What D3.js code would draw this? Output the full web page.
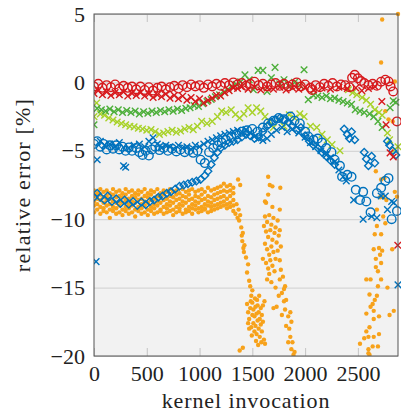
<!DOCTYPE html>
<html>
<head>
<meta charset="utf-8">
<script src="https://cdn.jsdelivr.net/npm/d3@7"></script>
<style>
  body { margin: 0; background: #fff; }
  svg text { font-family: "Liberation Serif", "Times New Roman", "DejaVu Serif", serif; fill: #222; }
</style>
</head>
<body>
<svg id="chart" width="403" height="419"></svg>
<script>
// Tick values
const xTicks = [0, 500, 1000, 1500, 2000, 2500];
const yTicks = [5, 0, -5, -10, -15, -20];

// Red circles [x, y]
const redCircles = [
  [0,-0.3],[40,-0.1],[80,-0.4],[120,-0.2],[160,-0.35],[200,-0.15],[240,-0.45],[280,-0.25],
  [320,-0.4],[360,-0.3],[400,-0.5],[440,-0.3],[480,-0.55],[520,-0.35],[560,-0.6],[600,-0.4],
  [640,-0.3],[680,-0.5],[720,-0.35],[760,-0.25],[800,-0.45],[840,-0.2],[880,-0.35],[920,-0.15],
  [960,-0.3],[1000,-0.2],[1040,-0.4],[1080,-0.15],[1120,-0.3],[1160,-0.1],[1200,-0.25],[1240,-0.05],
  [1280,-0.2],[1320,0.0],[1360,-0.15],[1400,-0.05],[1440,-0.25],[1480,-0.1],[1520,0.05],[1560,-0.2],
  [1600,-0.1],[1640,-0.3],[1680,-0.15],[1720,-0.05],[1760,-0.25],[1800,-0.1],[1840,-0.3],[1880,-0.15],
  [1920,0.0],[1960,-0.3],[2000,-0.15],[2050,-0.4],[2065,-0.55],[2100,-0.2],[2140,-0.35],[2180,-0.1],
  [2220,-0.25],[2260,-0.05],[2300,-0.3],[2340,-0.15],[2380,-0.2],[2420,-0.35],[2445,0.34],[2470,0.56],
  [2500,0.3],[2530,0.1],[2560,-0.05],[2600,-0.2],[2640,-0.1],[2680,-0.25],[2720,0.05],[2760,0.2],
  [2790,0.07],[2810,-0.3],[2835,-0.66],[2870,-2.85]
];

// Red crosses [x, y]
const redCrosses = [
  [0,-0.8],[40,-0.6],[80,-0.9],[120,-0.7],[160,-0.95],[200,-0.75],[240,-0.9],[280,-0.7],
  [320,-1.0],[360,-0.8],[400,-0.95],[440,-0.75],[480,-1.0],[520,-0.85],[560,-1.1],[600,-0.9],
  [640,-1.05],[680,-0.85],[720,-1.15],[760,-0.95],[800,-1.2],[840,-1.0],[880,-1.3],[920,-1.1],
  [960,-1.4],[1000,-1.2],[1040,-1.5],[1080,-1.3],[1120,-1.15],[1160,-0.95],[1200,-1.0],[1240,-0.75],
  [1280,-0.6],[1320,-0.4],[1360,-0.45],[1400,-0.3],[1460,-0.5],[1520,-0.35],[1580,-0.55],[1640,-0.4],
  [1700,-0.5],[1760,-0.35],[1820,-0.55],[1880,-0.4],[1940,-0.5],[2000,-0.35],[2080,-0.55],[2160,-0.4],
  [2240,-0.5],[2320,-0.35],[2400,-0.45],[2480,-0.4],[2537,-0.6],[2600,-0.45],[2660,-0.3],[2727,-1.4],
  [2767,-3.1],[2805,-5.15],[2835,-5.45],[2878,-11.9]
];

// Dark green crosses [x, y]
const greenCrosses = [
  [0,-3.1],[30,-1.9],[70,-2.0],[110,-2.1],[150,-1.95],[190,-2.15],[230,-2.0],[270,-2.2],
  [310,-2.05],[350,-2.2],[390,-2.1],[430,-2.3],[470,-2.15],[510,-2.25],[550,-2.1],[590,-2.2],
  [630,-2.05],[670,-2.15],[710,-2.0],[750,-2.1],[790,-1.95],[830,-2.05],[870,-1.9],[910,-1.85],
  [950,-1.7],[990,-1.75],[1030,-1.55],[1070,-1.4],[1110,-1.25],[1150,-1.05],[1190,-0.9],[1230,-0.7],
  [1270,-0.5],[1310,-0.3],[1350,-0.15],[1390,0.05],[1430,0.55],[1470,0.2],[1510,-0.54],[1555,0.88],
  [1600,0.88],[1640,-0.66],[1680,0.34],[1715,1.1],[1760,-0.1],[1800,0.2],[1850,-0.3],[1900,0.0],
  [1950,-0.2],[1990,0.93],[2030,-1.26],[2080,-0.95],[2120,-1.0],[2160,-1.1],[2200,-1.0],[2240,-1.2],
  [2280,-1.15],[2320,-1.3],[2360,-1.4],[2400,-1.5],[2440,-1.6],[2475,-2.0],[2520,-2.1],[2560,-2.2],
  [2610,-2.3],[2650,-2.5],[2690,-2.85],[2730,-3.3],[2805,-1.85],[2835,-1.35],[2860,-1.45]
];

// Light green crosses [x, y]
const limeCrosses = [
  [0,-2.5],[25,-1.5],[60,-2.3],[100,-2.4],[140,-2.6],[180,-2.75],[220,-2.9],[260,-3.0],
  [300,-3.1],[340,-3.2],[380,-3.25],[420,-3.35],[460,-3.4],[500,-3.5],[540,-3.45],[580,-3.6],
  [620,-3.8],[660,-3.7],[700,-3.6],[740,-3.5],[780,-3.65],[820,-3.55],[860,-3.4],[900,-3.3],
  [940,-3.45],[980,-3.2],[1020,-2.85],[1070,-3.0],[1120,-2.85],[1170,-2.5],[1210,-2.1],[1250,-2.2],
  [1300,-2.0],[1340,-2.35],[1380,-2.6],[1420,-2.3],[1460,-1.85],[1500,-2.2],[1540,-1.85],[1580,-2.1],
  [1620,-2.5],[1660,-2.85],[1700,-3.3],[1750,-2.7],[1800,-3.2],[1850,-2.36],[1900,-2.6],[1950,-2.3],
  [1990,-2.5],[2050,-3.2],[2110,-3.3],[2160,-3.8],[2210,-4.2],[2255,-4.55],[2330,-5.0],[2410,-0.54],
  [2450,-0.75],[2490,-0.9],[2540,-1.1],[2580,-1.3],[2620,-1.6],[2660,-2.0],[2700,-2.2],[2730,-2.4],
  [2780,-3.7],[2800,-4.2],[2850,-4.9],[2880,-4.7]
];

// Blue circles [x, y]
const blueCircles = [
  [0,-4.5],[30,-4.3],[60,-4.7],[90,-4.5],[120,-4.9],[150,-4.6],[180,-4.85],[210,-4.6],
  [240,-4.9],[270,-4.7],[300,-5.0],[330,-4.75],[360,-5.0],[400,-4.8],[430,-5.1],[460,-5.3],
  [490,-5.0],[520,-5.35],[550,-4.9],[580,-4.7],[620,-4.95],[660,-4.8],[700,-5.0],[740,-4.85],
  [780,-5.05],[820,-4.9],[860,-5.1],[900,-4.95],[940,-5.15],[980,-5.0],[1010,-5.65],[1050,-5.9],
  [1090,-5.1],[1130,-4.8],[1170,-4.6],[1210,-4.4],[1250,-4.2],[1300,-4.0],[1350,-3.8],[1400,-3.6],
  [1450,-3.5],[1500,-3.4],[1550,-3.6],[1600,-3.3],[1650,-3.0],[1700,-2.8],[1750,-2.6],[1800,-2.7],
  [1860,-2.5],[1900,-2.8],[1950,-3.0],[2000,-3.6],[2030,-3.95],[2080,-4.2],[2120,-4.1],[2160,-4.4],
  [2200,-4.8],[2250,-5.1],[2280,-5.65],[2330,-6.1],[2350,-6.9],[2400,-6.75],[2440,-6.9],[2480,-7.85],
  [2520,-8.6],[2550,-8.0],[2580,-8.7],[2620,-9.5],[2680,-8.1],[2720,-7.7],[2760,-7.2],[2790,-7.0],
  [2820,-10.0],[2870,-9.4]
];

// Blue diamonds [x, y]
const blueDiamonds = [
  [0,-8.4],[30,-8.1],[60,-8.4],[100,-8.6],[130,-8.3],[170,-8.7],[210,-8.5],[250,-8.85],
  [290,-8.6],[330,-8.9],[370,-8.7],[410,-9.0],[450,-8.75],[490,-8.95],[530,-8.7],[570,-8.6],
  [610,-8.4],[650,-8.3],[690,-8.1],[730,-8.0],[770,-7.8],[810,-7.6],[850,-7.5],[890,-7.4],
  [930,-7.3],[970,-7.2],[1010,-7.1],[1050,-6.8],[1080,-6.5],[1110,-6.0],[1140,-5.5],[1170,-5.1],
  [1200,-4.8],[1240,-4.6],[1280,-4.4],[1320,-4.3],[1360,-4.2],[1400,-4.0],[1440,-3.8],[1480,-3.9],
  [1520,-4.1],[1560,-4.0],[1600,-3.6],[1640,-3.2],[1680,-2.9],[1720,-2.7],[1760,-2.6],[1800,-2.75],
  [1840,-2.9],[1880,-3.2],[1920,-3.5],[1960,-3.3],[2000,-3.9],[2040,-4.3],[2080,-4.6],[2120,-4.8],
  [2160,-5.1],[2200,-5.4],[2240,-5.7],[2280,-6.0],[2370,-3.4],[2400,-3.8],[2420,-4.1],[2440,-3.6],
  [2470,-4.2],[2560,-5.1],[2580,-5.6],[2600,-6.1],[2630,-5.4],[2660,-5.9],[2780,-4.3],[2800,-4.6],
  [2830,-5.0],[2860,-5.3]
];

// Blue crosses [x, y]
const blueCrosses = [
  [20,-13.1],[30,-5.65],[60,-4.3],[100,-4.6],[150,-4.5],[200,-4.7],[240,-4.4],[280,-6.1],
  [300,-6.2],[330,-4.8],[380,-4.6],[430,-4.5],[480,-4.7],[520,-4.3],[560,-4.05],[600,-4.5],
  [640,-4.8],[680,-4.6],[720,-4.7],[760,-4.9],[800,-4.6],[840,-4.8],[880,-4.7],[920,-4.9],
  [960,-4.6],[1000,-4.7],[1040,-4.5],[1080,-4.3],[1120,-4.2],[1160,-4.05],[1200,-3.9],[1240,-3.8],
  [1280,-3.7],[1320,-3.6],[1360,-3.5],[1400,-3.6],[1440,-3.45],[1480,-3.7],[1520,-3.95],[1560,-4.1],
  [1600,-4.25],[1640,-4.1],[1680,-3.8],[1730,-3.5],[1780,-3.3],[1830,-3.6],[1880,-3.4],[1940,-3.7],
  [2000,-4.0],[2050,-4.4],[2100,-4.7],[2150,-5.0],[2200,-5.3],[2240,-5.5],[2280,-5.8],[2320,-6.4],
  [2360,-6.9],[2390,-7.2],[2460,-8.6],[2550,-10.0],[2630,-9.8],[2680,-9.9],[2720,-8.3],[2760,-8.3],
  [2780,-9.3],[2820,-8.7],[2840,-8.8],[2880,-14.8]
];

// Orange dots, main band: [x, y1, y2, ...]
const orangeBand = [
  [0,-7.9,-8.3,-8.7,-9.0,-9.5],[30,-8.1,-8.5,-8.9,-9.3,-8.2],[60,-7.8,-8.2,-8.6,-9.1,-9.6],
  [90,-8.0,-8.4,-8.8,-9.2,-9.4],[120,-7.9,-8.3,-8.6,-9.0,-9.5],[150,-8.1,-8.5,-8.9,-9.3,-9.9],
  [180,-7.8,-8.2,-8.7,-9.1,-9.4],[210,-8.0,-8.4,-8.8,-9.2,-9.6],[240,-7.9,-8.3,-8.7,-9.0,-9.5],
  [270,-8.1,-8.4,-8.8,-9.3,-9.7],[300,-7.8,-8.2,-8.6,-9.1,-9.4],[330,-8.0,-8.5,-8.9,-9.2,-9.6],
  [360,-7.9,-8.3,-8.7,-9.0,-9.5],[390,-8.1,-8.4,-8.8,-9.3,-9.8],[420,-7.9,-8.2,-8.6,-9.1,-9.4],
  [450,-8.0,-8.5,-8.9,-9.2,-9.6],[480,-7.8,-8.3,-8.7,-9.0,-9.5],[510,-8.1,-8.4,-8.8,-9.3,-9.7],
  [540,-7.9,-8.2,-8.6,-9.1,-9.4],[570,-8.0,-8.5,-8.9,-9.2,-9.6],[600,-7.8,-8.3,-8.7,-9.0,-9.5],
  [630,-8.1,-8.4,-8.8,-9.3,-9.4],[660,-7.9,-8.2,-8.6,-9.1,-9.6],[690,-8.0,-8.5,-8.9,-9.2,-9.5],
  [720,-7.8,-8.3,-8.7,-9.0,-9.4],[750,-8.0,-8.4,-8.8,-9.3,-9.7],[780,-7.9,-8.2,-8.6,-9.1,-9.5],
  [810,-8.1,-8.5,-8.9,-9.2,-9.4],[840,-7.8,-8.3,-8.7,-9.0,-9.6],[870,-8.0,-8.4,-8.8,-9.3,-9.5],
  [900,-7.9,-8.2,-8.6,-9.1,-9.4],[930,-7.8,-8.5,-8.9,-9.2,-9.6],[960,-8.0,-8.3,-8.7,-9.0,-9.3],
  [990,-7.9,-8.4,-8.8,-9.2,-9.5],[1020,-7.8,-8.2,-8.6,-9.1,-9.4],[1050,-8.0,-8.5,-8.9,-9.2,-9.3],
  [1080,-7.7,-8.3,-8.7,-9.0,-9.5],[1110,-7.9,-8.4,-8.8,-9.1,-9.4],[1140,-7.8,-8.2,-8.6,-9.0,-9.3],
  [1170,-7.7,-8.1,-8.5,-8.9,-9.2],[1200,-7.6,-8.0,-8.4,-8.8,-9.1],[1230,-7.4,-7.9,-8.3,-8.7,-9.0],
  [1260,-7.6,-8.0,-8.5,-8.9,-9.2],[1290,-7.5,-7.9,-8.3,-8.8,-9.1],[1320,-7.7,-8.1,-8.6,-9.0,-9.4]
];

// Orange dots outside the band [x, y]
const orangeScatter = [
  [1340,-9.6],[1350,-8.9],[1360,-9.9],[1370,-9.3],[1375,-10.1],[1385,-9.7],[1365,-7.1],[1385,-7.5],
  [1395,-10.6],[1400,-11.2],[1405,-11.6],[1410,-11.0],[1415,-12.1],[1420,-12.4],[1425,-11.9],[1440,-12.8],
  [1450,-13.9],[1460,-13.3],[1470,-14.5],[1480,-14.9],[1490,-15.6],[1500,-15.2],[1380,-19.6],[1410,-19.4],
  [1450,-16.2],[1460,-16.8],[1470,-17.3],[1480,-16.5],[1490,-17.9],[1500,-16.1],[1500,-17.0],[1510,-17.6],
  [1510,-16.6],[1520,-18.2],[1520,-17.1],[1530,-16.4],[1530,-17.8],[1540,-16.9],[1540,-18.4],[1550,-17.4],
  [1550,-16.3],[1560,-18.0],[1560,-16.8],[1570,-17.3],[1570,-18.6],[1580,-16.5],[1580,-17.7],[1590,-17.0],
  [1590,-18.2],[1600,-16.3],[1600,-17.5],[1470,-18.0],[1460,-17.6],[1485,-16.0],[1495,-18.5],[1525,-15.8],
  [1545,-15.9],[1565,-15.6],[1585,-19.0],[1610,-18.8],[1615,-16.0],[1620,-19.1],[1535,-18.9],[1555,-19.2],
  [1650,-6.9],[1665,-7.5],[1690,-7.6],[1650,-8.2],[1630,-8.8],[1690,-9.1],[1760,-9.3],[1765,-7.7],
  [1620,-8.7],[1620,-9.8],[1640,-10.2],[1660,-9.7],[1680,-10.4],[1700,-9.9],[1720,-10.6],[1740,-10.1],
  [1630,-10.9],[1650,-11.3],[1670,-10.8],[1690,-11.5],[1710,-11.0],[1730,-11.7],[1750,-11.2],[1620,-11.8],
  [1640,-12.2],[1660,-12.6],[1680,-12.0],[1700,-12.4],[1720,-12.9],[1740,-12.3],[1630,-13.2],[1650,-13.6],
  [1670,-13.0],[1690,-13.4],[1710,-13.8],[1760,-13.0],[1600,-12.9],[1610,-10.5],[1760,-10.8],[1770,-12.0],
  [1660,-14.0],[1680,-14.6],[1640,-14.4],[1790,-14.2],[1810,-14.9],[1750,-15.6],[1820,-15.9],[1810,-16.6],
  [1840,-17.1],[1860,-16.8],[1820,-17.8],[1860,-18.6],[1840,-19.0],[1870,-19.5],[1890,-19.9],[1700,-16.5],
  [1730,-16.4],[1760,-14.4],[1720,-15.0],[1780,-15.4],[1800,-16.0],[1850,-18.0],[1880,-19.0],[1900,-19.7],
  [1870,-17.5],[1780,-17.0],[1770,-13.7],[1800,-15.1],
  [2660,-11.1],[2720,-11.1],[2700,-12.1],[2710,-12.6],[2720,-13.2],[2690,-13.8],[2620,-14.4],[2720,-14.4],
  [2690,-14.9],[2610,-15.5],[2660,-15.9],[2650,-16.7],[2700,-17.1],[2650,-17.3],[2610,-17.9],[2650,-18.6],
  [2560,-18.7],[2520,-19.1],[2610,-19.9],[2690,-19.3],[2800,-17.0],[2840,-16.7],[2825,-12.2],[2780,-15.0],
  [2670,-6.5],[2720,-7.1],[2750,-7.0],[2740,-8.4],[2710,-8.4],[2770,-8.6],[2870,-8.35],[2850,-8.0],
  [2760,-10.3],[2680,-10.5],[2730,4.6],[2880,5.0],[2720,1.46],[2850,0.07],[2760,-2.1],[2790,-2.7],
  [2830,-2.85],[2730,-12.3],[2640,-16.2],[2700,-18.4],[2580,-18.2],[2600,-19.5],[2670,-13.5],[2580,-16.9],
  [2740,-9.8],[2680,-9.3],[2650,-12.2],[2670,-12.9],[2580,-14.4],[2680,-15.6],[2620,-16.4],[2600,-18.6],
  [2640,-19.3],[2600,-19.8]
];

const colors = {
  red: "#d7191c",
  green: "#4daf3a",
  lime: "#a8d22a",
  blue: "#0072bd",
  orange: "#f7a21b"
};

const fontFamily = "'Liberation Serif', 'Times New Roman', 'DejaVu Serif', serif";

const svg = d3.select("#chart");
const margin = { left: 94, right: 5, top: 14, bottom: 63 };
const width = 403 - margin.left - margin.right;
const height = 419 - margin.top - margin.bottom;

const x = d3.scaleLinear().domain([0, 2880]).range([margin.left, margin.left + width]);
const y = d3.scaleLinear().domain([-20, 5]).range([margin.top + height, margin.top]);

// Plot background
svg.append("rect")
  .attr("x", margin.left).attr("y", margin.top)
  .attr("width", width).attr("height", height)
  .attr("fill", "#f2f2f2");

// Horizontal grid lines
svg.append("g")
  .attr("transform", `translate(${margin.left},0)`)
  .call(d3.axisLeft(y).tickValues(yTicks).tickSize(-width).tickFormat(""))
  .call(g => g.select(".domain").remove())
  .call(g => g.selectAll("line").attr("stroke", "#cfcfcf").attr("stroke-width", 1));

// Inward x ticks, bottom and top
svg.append("g")
  .attr("transform", `translate(0,${margin.top + height})`)
  .call(d3.axisTop(x).tickValues(xTicks).tickSize(8).tickFormat(""))
  .call(g => g.select(".domain").remove())
  .call(g => g.selectAll("line").attr("stroke", "#c4c4c4"));
svg.append("g")
  .attr("transform", `translate(0,${margin.top})`)
  .call(d3.axisBottom(x).tickValues(xTicks).tickSize(8).tickFormat(""))
  .call(g => g.select(".domain").remove())
  .call(g => g.selectAll("line").attr("stroke", "#c4c4c4"));

// Clip marks to the plot box
svg.append("clipPath").attr("id", "clip")
  .append("rect")
  .attr("x", margin.left).attr("y", margin.top - 3)
  .attr("width", width + 3).attr("height", height + 3);

const plot = svg.append("g").attr("clip-path", "url(#clip)");

// Orange dots
const orangePts = [];
orangeBand.forEach(row => row.slice(1).forEach(v => orangePts.push([row[0], v])));
orangeScatter.forEach(p => orangePts.push(p));

plot.append("g")
  .selectAll("circle")
  .data(orangePts)
  .enter()
  .append("circle")
  .attr("cx", d => x(d[0]))
  .attr("cy", d => y(d[1]))
  .attr("r", 2.2)
  .attr("fill", colors.orange);

const crossPath = d3.symbol().type(d3.symbolX).size(30)();
const diamondPath = d3.symbol().type(d3.symbolDiamond2).size(36)();

function drawCrosses(data, color) {
  plot.append("g")
    .selectAll("path")
    .data(data)
    .enter()
    .append("path")
    .attr("d", crossPath)
    .attr("transform", d => `translate(${x(d[0])},${y(d[1])})`)
    .attr("fill", "none")
    .attr("stroke", color)
    .attr("stroke-width", 1.4);
}

drawCrosses(limeCrosses, colors.lime);
drawCrosses(greenCrosses, colors.green);
drawCrosses(blueCrosses, colors.blue);

// Blue diamonds
plot.append("g")
  .selectAll("path")
  .data(blueDiamonds)
  .enter()
  .append("path")
  .attr("d", diamondPath)
  .attr("transform", d => `translate(${x(d[0])},${y(d[1])})`)
  .attr("fill", "none")
  .attr("stroke", colors.blue)
  .attr("stroke-width", 1.4);

// Blue circles
plot.append("g")
  .selectAll("circle")
  .data(blueCircles)
  .enter()
  .append("circle")
  .attr("cx", d => x(d[0]))
  .attr("cy", d => y(d[1]))
  .attr("r", 4.3)
  .attr("fill", "none")
  .attr("stroke", colors.blue)
  .attr("stroke-width", 1.4);

drawCrosses(redCrosses, colors.red);

// Red circles
plot.append("g")
  .selectAll("circle")
  .data(redCircles)
  .enter()
  .append("circle")
  .attr("cx", d => x(d[0]))
  .attr("cy", d => y(d[1]))
  .attr("r", 4.3)
  .attr("fill", "none")
  .attr("stroke", colors.red)
  .attr("stroke-width", 1.4);

// Frame
svg.append("rect")
  .attr("x", margin.left).attr("y", margin.top)
  .attr("width", width).attr("height", height)
  .attr("fill", "none")
  .attr("stroke", "#555")
  .attr("stroke-width", 1);

// Tick labels
svg.append("g")
  .attr("transform", `translate(0,${margin.top + height})`)
  .call(d3.axisBottom(x).tickValues(xTicks).tickSize(0).tickPadding(9).tickFormat(d3.format("d")))
  .call(g => g.select(".domain").remove())
  .call(g => g.attr("font-family", fontFamily).attr("font-size", 22))
  .call(g => g.selectAll("text").attr("fill", "#222"));

svg.append("g")
  .attr("transform", `translate(${margin.left},0)`)
  .call(d3.axisLeft(y).tickValues(yTicks).tickSize(0).tickPadding(9).tickFormat(d3.format("d")))
  .call(g => g.select(".domain").remove())
  .call(g => g.attr("font-family", fontFamily).attr("font-size", 22))
  .call(g => g.selectAll("text").attr("fill", "#222"));

// Axis titles
svg.append("text")
  .attr("x", margin.left + width / 2)
  .attr("y", 408)
  .attr("text-anchor", "middle")
  .attr("font-family", fontFamily)
  .attr("font-size", 22)
  .attr("letter-spacing", 0.9)
  .text("kernel invocation");

svg.append("text")
  .attr("transform", `translate(30,${margin.top + height / 2}) rotate(-90)`)
  .attr("text-anchor", "middle")
  .attr("font-family", fontFamily)
  .attr("font-size", 22)
  .attr("letter-spacing", 1.2)
  .text("relative error [%]");
</script>
</body>
</html>
